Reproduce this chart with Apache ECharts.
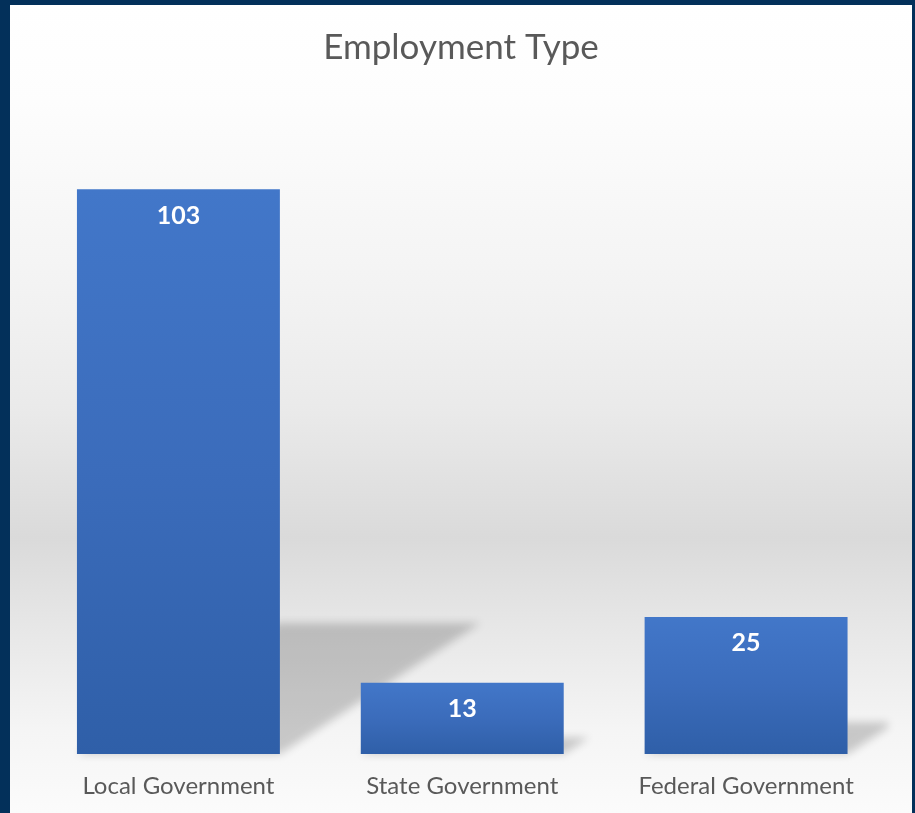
<!DOCTYPE html>
<html>
<head>
<meta charset="utf-8">
<title>Employment Type</title>
<script src="https://cdn.jsdelivr.net/npm/echarts@6/dist/echarts.min.js"></script>
<style>
  html, body { margin: 0; padding: 0; width: 915px; height: 813px; overflow: hidden; background: #03305a; }
  #chart { position: absolute; left: 10px; top: 5px; width: 902px; height: 808px; }
</style>
</head>
<body>
<div id="chart"></div>
<script>
// Employment counts by level of government
const categories = ['Local Government', 'State Government', 'Federal Government'];
const counts = [103, 13, 25];
const chartTitle = 'Employment Type';

const FONT = 'Lato, "Open Sans", sans-serif';
const BAR_WIDTH_RATIO = 0.715;
const SHADOW_HEIGHT_RATIO = 0.232;
const SHADOW_SLANT = 1.53;

const chart = echarts.init(document.getElementById('chart'), null, { renderer: 'canvas' });

// Soft slanted floor shadow cast to the right of each bar
function renderShadow(params, api) {
  const idx = api.value(0);
  const topPt = api.coord([idx, api.value(1)]);
  const basePt = api.coord([idx, 0]);
  const band = api.size([1, 0])[0];
  const w = band * BAR_WIDTH_RATIO;
  const L = topPt[0] - w / 2;
  const R = topPt[0] + w / 2;
  const base = basePt[1];
  const h = (base - topPt[1]) * SHADOW_HEIGHT_RATIO;
  const dx = h * SHADOW_SLANT;
  const xr = params.coordSys.x + params.coordSys.width;
  const pts = [[L, base], [R, base]];
  if (R + dx > xr) {
    pts.push([xr, base - h * (xr - R) / dx]);
    pts.push([xr, base - h]);
  } else {
    pts.push([R + dx, base - h]);
  }
  pts.push([Math.min(L + dx, xr), base - h]);
  const OFF = 4000;
  return {
    type: 'polygon',
    shape: { points: pts.map(p => [p[0] - OFF, p[1]]) },
    style: {
      fill: '#000',
      shadowColor: 'rgba(0,0,0,0.19)',
      shadowBlur: 9,
      shadowOffsetX: OFF,
      shadowOffsetY: 0
    },
    silent: true
  };
}

chart.setOption({
  animation: false,
  backgroundColor: {
    type: 'linear', x: 0, y: 0, x2: 0, y2: 1,
    colorStops: [
      { offset: 0.0, color: '#ffffff' },
      { offset: 0.12, color: '#fdfdfd' },
      { offset: 0.35, color: '#f3f3f3' },
      { offset: 0.5, color: '#eaeaea' },
      { offset: 0.66, color: '#dadada' },
      { offset: 0.78, color: '#e8e8e8' },
      { offset: 0.9, color: '#f5f5f5' },
      { offset: 1.0, color: '#fbfbfb' }
    ]
  },
  title: {
    text: chartTitle,
    left: 'center',
    top: 25,
    padding: 0,
    textStyle: { fontFamily: FONT, fontSize: 35, fontWeight: 'normal', color: '#595959' }
  },
  grid: { left: 26.5, right: 24, top: 91, bottom: 59, containLabel: false },
  xAxis: {
    type: 'category',
    data: categories,
    axisLine: { show: false },
    axisTick: { show: false },
    axisLabel: { margin: 20, fontFamily: FONT, fontSize: 24, color: '#595959' }
  },
  yAxis: {
    type: 'value',
    min: 0,
    max: 120,
    show: false,
    splitLine: { show: false }
  },
  series: [
    {
      type: 'custom',
      z: 1,
      clip: false,
      renderItem: renderShadow,
      data: counts.map((v, i) => [i, v]),
      encode: { x: 0, y: 1 }
    },
    {
      type: 'bar',
      z: 2,
      data: counts,
      barWidth: (BAR_WIDTH_RATIO * 100) + '%',
      itemStyle: {
        color: {
          type: 'linear', x: 0, y: 0, x2: 0, y2: 1,
          colorStops: [
            { offset: 0, color: '#4277c9' },
            { offset: 0.5, color: '#3b6cbb' },
            { offset: 1, color: '#2f5fa8' }
          ]
        }
      },
      label: {
        show: true,
        position: 'insideTop',
        distance: 14,
        fontFamily: FONT,
        fontSize: 25,
        fontWeight: 'bold',
        color: '#ffffff'
      }
    }
  ]
});
</script>
</body>
</html>
